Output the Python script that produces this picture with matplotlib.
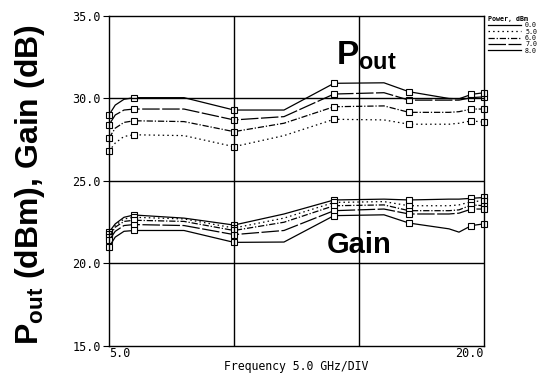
import numpy as np
import matplotlib
matplotlib.use("Agg")
import matplotlib.pyplot as plt
from matplotlib.lines import Line2D

plt.rcParams['mathtext.fontset'] = 'custom'
plt.rcParams['mathtext.rm'] = 'Liberation Sans'
plt.rcParams['mathtext.bf'] = 'Liberation Sans:bold'

# Frequency points (GHz)
freq = [5.0, 5.25, 5.6, 6.0, 8.0, 10.0, 12.0, 14.0, 16.0, 17.0, 18.6, 19.0, 19.5, 20.0]
marker_idx = [0, 3, 5, 7, 9, 12, 13]

# Output power (dBm) for input power 5..8 dBm
pout_5 = [26.8, 27.3, 27.7, 27.8, 27.75, 27.08, 27.75, 28.74, 28.7, 28.44, 28.44, 28.5, 28.65, 28.56]
pout_6 = [27.6, 28.2, 28.55, 28.65, 28.6, 27.99, 28.5, 29.5, 29.55, 29.16, 29.16, 29.2, 29.36, 29.36]
pout_7 = [28.4, 29.0, 29.3, 29.36, 29.36, 28.7, 28.9, 30.27, 30.35, 29.9, 29.9, 29.9, 30.05, 30.1]
pout_8 = [29.0, 29.6, 29.95, 30.05, 30.05, 29.3, 29.3, 30.92, 30.95, 30.41, 30.0, 29.98, 30.25, 30.35]

# Gain (dB) for input power 0..8 dBm
gain_0 = [21.9, 22.4, 22.8, 22.94, 22.75, 22.33, 23.0, 23.85, 23.9, 23.85, 23.9, 23.9, 23.95, 24.0]
gain_5 = [21.8, 22.3, 22.7, 22.8, 22.7, 22.15, 22.75, 23.7, 23.75, 23.5, 23.5, 23.55, 23.75, 23.8]
gain_6 = [21.6, 22.2, 22.55, 22.62, 22.55, 22.0, 22.5, 23.5, 23.55, 23.2, 23.2, 23.25, 23.55, 23.5]
gain_7 = [21.4, 21.95, 22.3, 22.36, 22.3, 21.75, 22.0, 23.2, 23.3, 23.0, 23.0, 23.05, 23.3, 23.3]
gain_8 = [21.0, 21.6, 21.95, 22.0, 22.0, 21.28, 21.3, 22.9, 22.95, 22.45, 22.1, 21.9, 22.3, 22.4]

power_labels = ['0.0', '5.0', '6.0', '7.0', '8.0']
styles = {'0.0': '-', '5.0': (0, (1.2, 2.5)), '6.0': (0, (5, 1.5, 1, 1.5)),
          '7.0': (0, (14, 2)), '8.0': '-'}

fig = plt.figure(figsize=(5.51, 3.76), dpi=100)
ax = fig.add_axes([0.1978, 0.0798, 0.6806, 0.8777])

mk = dict(marker='s', markersize=4.6, markerfacecolor='white', markeredgecolor='black',
          markeredgewidth=0.8, markevery=marker_idx, color='black', lw=0.9)

for lab, ys in zip(power_labels[1:], [pout_5, pout_6, pout_7, pout_8]):
    ax.plot(freq, ys, linestyle=styles[lab], clip_on=False, **mk)
for lab, ys in zip(power_labels, [gain_0, gain_5, gain_6, gain_7, gain_8]):
    ax.plot(freq, ys, linestyle=styles[lab], clip_on=False, **mk)

ax.set_xlim(5, 20)
ax.set_ylim(15, 35)
for xv in [10, 15]:
    ax.axvline(xv, color='black', lw=1.0)
for yv in [20, 25, 30]:
    ax.axhline(yv, color='black', lw=1.0)
for s in ax.spines.values():
    s.set_linewidth(1.0)

tick_font = 'DejaVu Sans Mono'
ax.set_yticks([15, 20, 25, 30, 35])
ax.set_yticklabels(['15.0', '20.0', '25.0', '30.0', '35.0'], family=tick_font, fontsize=8.5)
ax.tick_params(axis='y', length=4, width=0.8, pad=2)
ax.set_xticks([5, 20])
ax.set_xticklabels(['5.0', '20.0'], family=tick_font, fontsize=8.5)
ax.tick_params(axis='x', length=0, pad=1)
xl = ax.get_xticklabels()
xl[0].set_ha('left')
xl[1].set_ha('right')

ax.set_xlabel('Frequency 5.0 GHz/DIV', family=tick_font, fontsize=8.3, labelpad=0)
ax.set_ylabel(r'$\mathbf{P_{out}}$ (dBm), Gain (dB)', family='Liberation Sans',
              fontweight='bold', fontsize=23, labelpad=14)
ax.yaxis.set_label_coords(-0.165, 0.49)

ax.text(15.3, 32.6, r'$\mathbf{P_{out}}$', fontsize=24, ha='center', va='center')
ax.text(15.0, 21.1, 'Gain', family='Liberation Sans', fontweight='bold', fontsize=21,
        ha='center', va='center')

handles = [Line2D([], [], color='black', lw=0.9, linestyle=styles[l]) for l in power_labels]
leg = ax.legend(handles, power_labels, title='Power, dBm', loc='upper left',
                bbox_to_anchor=(1.01, 1.0), frameon=False, prop={'family': tick_font, 'size': 4.8},
                title_fontproperties={'family': tick_font, 'size': 4.8, 'weight': 'bold'},
                handlelength=5, handletextpad=0.6, labelspacing=0.05, borderpad=0, borderaxespad=0,
                alignment='left')

fig.savefig('out.png', dpi=100)
